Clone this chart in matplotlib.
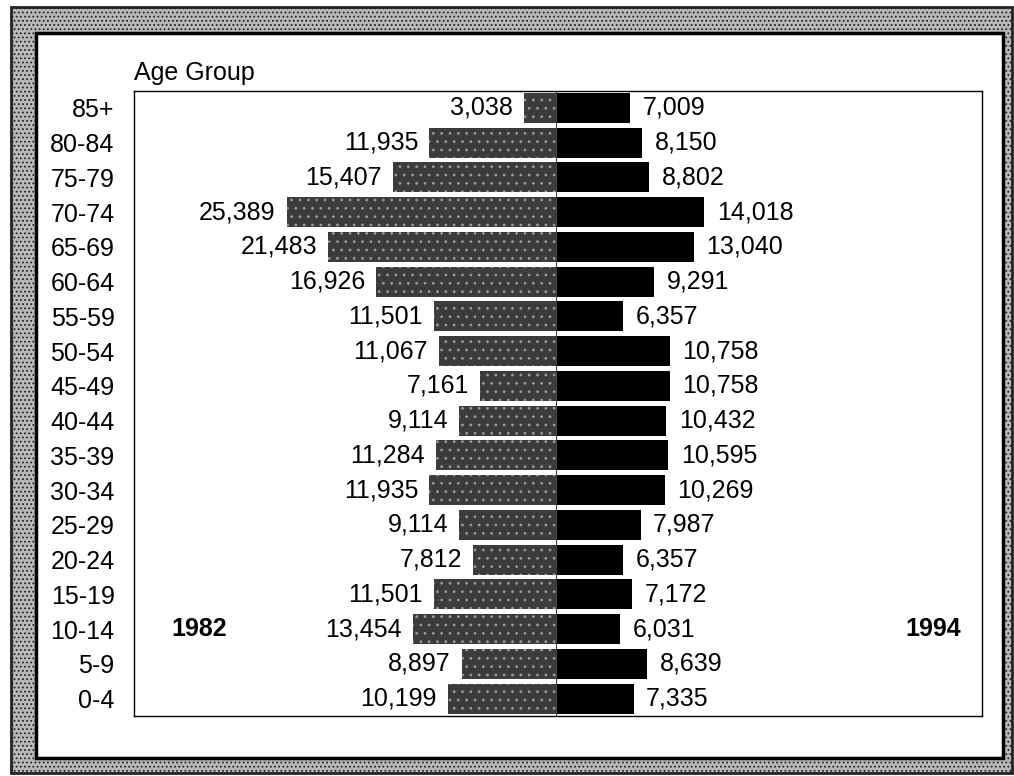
import matplotlib.pyplot as plt
from matplotlib.patches import Rectangle
from matplotlib.transforms import blended_transform_factory

plt.rcParams['font.family'] = ['Liberation Sans', 'DejaVu Sans']
plt.rcParams['hatch.linewidth'] = 0.8

# Age groups, bottom to top
ages = ['0-4', '5-9', '10-14', '15-19', '20-24', '25-29', '30-34', '35-39', '40-44',
        '45-49', '50-54', '55-59', '60-64', '65-69', '70-74', '75-79', '80-84', '85+']

# Counts per age group
pop_1982 = [10199, 8897, 13454, 11501, 7812, 9114, 11935, 11284, 9114,
            7161, 11067, 11501, 16926, 21483, 25389, 15407, 11935, 3038]
pop_1994 = [7335, 8639, 6031, 7172, 6357, 7987, 10269, 10595, 10432,
            10758, 10758, 6357, 9291, 13040, 14018, 8802, 8150, 7009]

W, H = 1014, 776
fig = plt.figure(figsize=(W / 100, H / 100), dpi=100)

# scanned-looking frame
def px_rect(x0, y0, x1, y1, **kw):
    return Rectangle((x0 / W, 1 - y1 / H), (x1 - x0) / W, (y1 - y0) / H,
                     transform=fig.transFigure, zorder=-5, **kw)

fig.add_artist(px_rect(11, 7, 1012, 773, facecolor='#b8b8b8', edgecolor='#222222',
                       hatch='....', linewidth=2))
fig.add_artist(px_rect(36, 33, 1003, 758, facecolor='white', edgecolor='black',
                       linewidth=2.5))

ax = fig.add_axes([134 / W, 1 - 716 / H, (982 - 134) / W, (716 - 90.5) / H])
ax.set_facecolor('none')

y = range(len(ages))
left = ax.barh(y, [-v for v in pop_1982], height=0.86, color='#3c3c3c',
               edgecolor='#9a9a9a', hatch='..', linewidth=0)
right = ax.barh(y, pop_1994, height=0.86, color='black', linewidth=0)
ax.axvline(0, color='#444444', linewidth=0.8)

for i in y:
    ax.annotate(f'{pop_1982[i]:,}', (-pop_1982[i], i), xytext=(-8, 0),
                textcoords='offset points', ha='right', va='center', fontsize=18)
    ax.annotate(f'{pop_1994[i]:,}', (pop_1994[i], i), xytext=(9, 0),
                textcoords='offset points', ha='left', va='center', fontsize=18)

ax.set_xlim(-39800, 40200)
ax.set_ylim(-0.5, 17.5)
ax.set_yticks(list(y))
ax.set_yticklabels(ages, fontsize=18)
ax.tick_params(axis='y', length=0, pad=14)
ax.set_xticks([])
for s in ax.spines.values():
    s.set_linewidth(1)

fig.text(134 / W, 1 - 73 / H, 'Age Group', fontsize=18, ha='left', va='center')

tr = blended_transform_factory(ax.transAxes, ax.transData)
ax.text(0.077, 2, '1982', transform=tr, ha='center', va='center',
        fontsize=18, fontweight='bold')
ax.text(0.942, 2, '1994', transform=tr, ha='center', va='center',
        fontsize=18, fontweight='bold')

fig.savefig('out.png', dpi=100)
